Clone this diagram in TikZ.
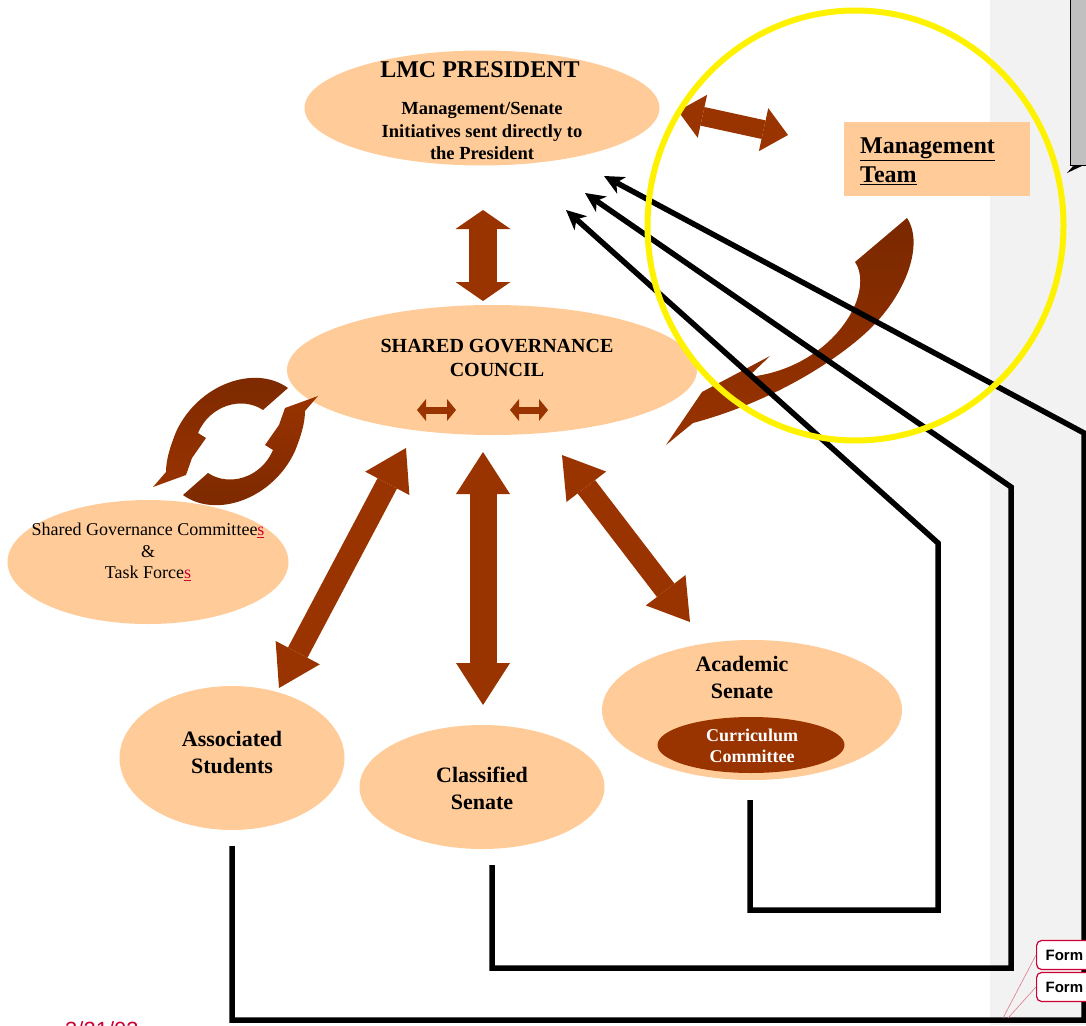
\documentclass[tikz,border=0pt]{standalone}
\usepackage{fontspec}
\setmainfont{Liberation Serif}
\newfontfamily\notefont{Liberation Sans}
\usetikzlibrary{shapes, arrows.meta, calc}

\definecolor{peach}{HTML}{FFCC99}
\definecolor{rust}{HTML}{993300}
\definecolor{darkrust}{HTML}{7A2800}
\definecolor{panelgrey}{HTML}{F2F2F2}
\definecolor{boxgrey}{HTML}{C0C0C0}
\definecolor{notered}{HTML}{CC0033}
\definecolor{notepink}{HTML}{E07A8C}

\tikzset{block/.style n args={3}{draw=rust, line width=#1,
  {Triangle[width=#2, length=#3, line width=0pt]}-{Triangle[width=#2, length=#3, line width=0pt]}}}

\begin{document}
\begin{tikzpicture}[x=1pt, y=-1pt]
		\tikzstyle{oval} = [ellipse, fill=peach, inner sep=0];
		\tikzstyle{caption} = [align=center, inner sep=0];
		\tikzstyle{link} = [line width=5.5pt, line join=miter, -{Stealth[length=20pt, width=19pt, inset=6pt, line width=0pt]}];
		\tikzstyle{formbox} = [draw=notered, fill=white, rounded corners=5, line width=1.2pt, anchor=west, minimum height=29, text width=64, inner xsep=9, align=left, font=\notefont\bfseries\fontsize{15}{18}\selectfont];

		\useasboundingbox (0,0) rectangle (1086,1025);
		\fill[panelgrey] (990,0) rectangle (1086,1025);

		\node[draw, fill=boxgrey, line width=1.2pt, minimum width=30, minimum height=170, inner sep=0, anchor=north west] (notebox) at (1070,-5) {};
		\fill (1067,173) -- (1074,165) -- (1084,165) -- cycle;

		\node[oval, minimum width=355, minimum height=115] (president) at (482,108) {};
		\node[caption, font=\bfseries\fontsize{24}{29}\selectfont] (presTitle) at (480,70) {LMC PRESIDENT};
		\node[caption, font=\bfseries\fontsize{18.5}{22.5}\selectfont] (presNote) at (482,131) {Management/Senate\\Initiatives sent directly to\\the President};

		\node[fill=peach, minimum width=186, minimum height=74, inner sep=0] (mgmt) at (937,159) {};
		\node[caption, align=left, anchor=west, font=\bfseries\fontsize{24}{29}\selectfont] (mgmtText) at (860,161) {\underline{Management}\\\underline{Team}};

		\node[oval, minimum width=410, minimum height=130] (council) at (492,370) {};
		\node[caption, font=\bfseries\fontsize{20}{24}\selectfont] (councilText) at (497,358) {SHARED GOVERNANCE\\COUNCIL};

		\node[oval, minimum width=281, minimum height=124] (committees) at (148,562) {};
		\node[caption, font=\fontsize{18}{21.5}\selectfont] (committeesText) at (148,552) {Shared Governance Committee\textcolor{notered}{\underline{s}}\\\&\\Task Force\textcolor{notered}{\underline{s}}};

		\node[oval, minimum width=225, minimum height=144] (students) at (232,758) {};
		\node[caption, font=\bfseries\fontsize{22}{27}\selectfont] (studentsText) at (232,752) {Associated\\Students};

		\node[oval, minimum width=245, minimum height=124] (classified) at (482,787) {};
		\node[caption, font=\bfseries\fontsize{22}{27}\selectfont] (classifiedText) at (482,788) {Classified\\Senate};

		\node[oval, minimum width=300, minimum height=140] (academic) at (752,710) {};
		\node[caption, font=\bfseries\fontsize{22}{27}\selectfont] (academicText) at (742,677) {Academic\\Senate};
		\node[ellipse, fill=rust, minimum width=187, minimum height=56, inner sep=0] (curriculum) at (751,745) {};
		\node[caption, text=white, font=\bfseries\fontsize{18}{21}\selectfont] (curriculumText) at (752,746) {Curriculum\\Committee};

		% thick two-way arrows
		\coordinate (pcA) at (483,210);
		\coordinate (pcB) at (483,301);
		\coordinate (pmA) at (678,111);
		\coordinate (pmB) at (788,135);
		\coordinate (csA) at (406,448);
		\coordinate (csB) at (279,688);
		\coordinate (ccA) at (483,452);
		\coordinate (ccB) at (483,705);
		\coordinate (caA) at (562,455);
		\coordinate (caB) at (690,622);

		\draw[block={28pt}{55pt}{19pt}] (pcA) -- (pcB);
		\draw[block={19pt}{44pt}{25pt}] (pmA) -- (pmB);
		\draw[block={22pt}{50pt}{40pt}] (csA) -- (csB);
		\draw[block={27pt}{54pt}{42pt}] (ccA) -- (ccB);
		\draw[block={22pt}{50pt}{40pt}] (caA) -- (caB);

		\draw[block={7pt}{22pt}{9pt}] ($(council.center)+(-75,40)$) -- ($(council.center)+(-36,40)$);
		\draw[block={7pt}{22pt}{9pt}] ($(council.center)+(18,40)$) -- ($(council.center)+(56,40)$);

		% curved arrows
		\shade[top color=darkrust, bottom color=rust] (288,388) .. controls (255,364) and (198,384) .. (176,432)
			.. controls (170,447) and (166,460) .. (166,472) -- (153,487) -- (186,475) -- (192,458) -- (206,438)
			-- (198,433) .. controls (210,405) and (242,396) .. (263,410) -- cycle;
		\shade[top color=rust, bottom color=darkrust] (183,495) .. controls (216,519) and (273,499) .. (295,451)
			.. controls (301,436) and (305,423) .. (305,411) -- (318,396) -- (285,408) -- (279,425) -- (265,445)
			-- (273,450) .. controls (261,478) and (229,487) .. (208,473) -- cycle;
		\shade[top color=darkrust, bottom color=rust] (907,218) .. controls (925,245) and (905,300) .. (860,338)
			.. controls (820,372) and (760,405) .. (693,423) -- (666,445) -- (702,392) -- (770,356) -- (748,377)
			.. controls (800,372) and (840,340) .. (855,305) .. controls (862,288) and (862,272) .. (855,262) -- cycle;

		% links back to the president
		\coordinate (tipOuter) at (604,176);
		\coordinate (turnOuter) at (1084,433);
		\coordinate (baseOuter) at (1084,1020);
		\coordinate (tipMid) at (585,193);
		\coordinate (turnMid) at (1011,487);
		\coordinate (baseMid) at (1011,968);
		\coordinate (tipInner) at (566,210);
		\coordinate (turnInner) at (938,543);
		\coordinate (baseInner) at (938,910);

		\draw[link] ([yshift=-16pt]students.south) |- (baseOuter) -- (turnOuter) -- (tipOuter);
		\draw[link] ([xshift=10pt, yshift=-16pt]classified.south) |- (baseMid) -- (turnMid) -- (tipMid);
		\draw[link] ([xshift=-2pt, yshift=-20pt]academic.south) |- (baseInner) -- (turnInner) -- (tipInner);

		\draw[yellow, line width=6pt] (855.5,225.5) ellipse [x radius=208, y radius=215];

		% review notes
		\node[formbox] (formA) at (1036,955) {Form};
		\node[formbox] (formB) at (1036,987) {Form};
		\coordinate (noteA) at (1003,1018);
		\coordinate (noteB) at (1008,1018);
		\draw[notepink, line width=0.6pt] (formA.west) -- (noteA);
		\draw[notepink, line width=0.6pt] (formB.west) -- (noteB);

		\node[anchor=base west, inner sep=0, text=notered, font=\notefont\fontsize{22}{26}\selectfont] (date) at (65,1037) {3/21/03};
	\end{tikzpicture}
\end{document}
